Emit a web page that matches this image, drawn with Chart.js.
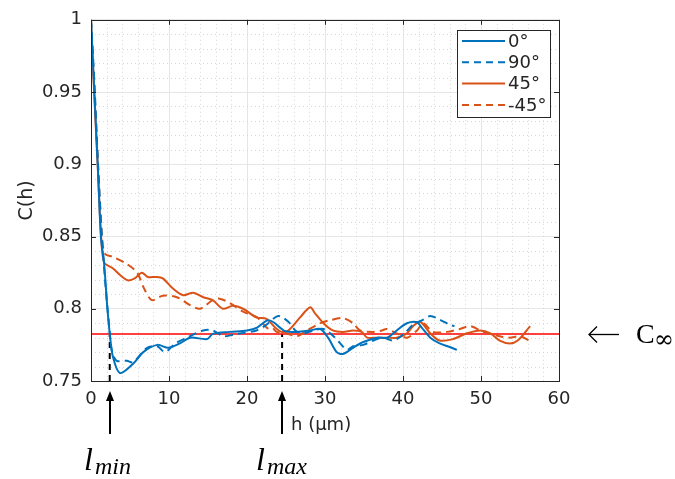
<!DOCTYPE html>
<html>
<head>
<meta charset="utf-8">
<script src="https://cdn.jsdelivr.net/npm/chart.js@4/dist/chart.umd.min.js"></script>
<style>
  html, body { margin: 0; padding: 0; background: #fff; }
  #wrap { width: 675px; height: 479px; }
</style>
</head>
<body>
<div id="wrap"><canvas id="myChart" width="675" height="479"></canvas></div>
<script>
// lag h (um) and correlation values, one pair of arrays per direction
const h0   = [0, 0.42, 0.86, 1.28, 1.67, 2.1, 2.4, 2.8, 3.7, 5.4, 6.7, 8.5, 9.9, 11.4, 12.7, 14.9, 15.6, 17.8, 20, 21.3, 22.6, 23.3, 24.9, 26.4, 28.1, 29.4, 30.4, 31.5, 32.3, 33.6, 34.9, 36.7, 38.0, 39.2, 40.5, 41.8, 42.4, 43.5, 44.7, 46, 46.9];
const c0   = [1, 0.951, 0.90, 0.849, 0.832, 0.80, 0.783, 0.767, 0.7555, 0.762, 0.770, 0.775, 0.773, 0.776, 0.780, 0.779, 0.7826, 0.784, 0.785, 0.787, 0.792, 0.791, 0.7845, 0.784, 0.785, 0.786, 0.780, 0.770, 0.7687, 0.773, 0.777, 0.780, 0.780, 0.785, 0.790, 0.7907, 0.787, 0.780, 0.776, 0.7735, 0.7715];

const h90  = [0, 0.45, 0.9, 1.4, 1.8, 2.3, 2.7, 3.3, 4.6, 5.4, 7.2, 8.5, 9.5, 10.8, 12.3, 14.4, 15.6, 17, 18.2, 19.5, 21.2, 22.5, 24, 25.3, 26.2, 27.2, 28.5, 29.8, 31.3, 32.8, 33.6, 34.9, 36.2, 37.5, 38.7, 40, 41.3, 42.6, 43.5, 44.7, 46, 46.6];
const c90  = [1, 0.955, 0.90, 0.85, 0.82, 0.79, 0.77, 0.764, 0.764, 0.763, 0.773, 0.774, 0.770, 0.776, 0.780, 0.785, 0.785, 0.781, 0.782, 0.7833, 0.785, 0.789, 0.795, 0.791, 0.785, 0.783, 0.785, 0.786, 0.780, 0.7716, 0.774, 0.775, 0.778, 0.780, 0.778, 0.782, 0.789, 0.7925, 0.795, 0.7925, 0.789, 0.788];

const h45  = [0, 0.4, 0.85, 1.3, 1.7, 2.8, 3.8, 4.7, 5.6, 6.5, 7.3, 8.4, 9.2, 10.5, 11.8, 13.1, 14.4, 15.6, 16.9, 18.2, 19.5, 21.2, 22.5, 23.6, 24.4, 25.3, 26.8, 28.1, 28.7, 29.8, 31, 32.3, 33.6, 34.7, 35.4, 36.7, 37.9, 39.2, 40.5, 41.3, 42.2, 43.5, 44.7, 46.4, 48.2, 49.9, 51.2, 52.4, 53.7, 54.7, 56.3];
const c45  = [1, 0.95, 0.90, 0.85, 0.832, 0.828, 0.823, 0.8197, 0.821, 0.825, 0.822, 0.822, 0.821, 0.814, 0.8094, 0.811, 0.808, 0.806, 0.800, 0.802, 0.800, 0.794, 0.793, 0.787, 0.784, 0.785, 0.794, 0.801, 0.797, 0.790, 0.785, 0.784, 0.785, 0.784, 0.780, 0.780, 0.780, 0.780, 0.783, 0.788, 0.791, 0.783, 0.778, 0.779, 0.783, 0.785, 0.783, 0.778, 0.776, 0.778, 0.788];

const hm45 = [0, 0.45, 0.9, 1.4, 1.8, 2.8, 4.6, 5.9, 6.9, 7.8, 9.2, 11, 12.7, 14, 15.6, 16.5, 17.8, 19.5, 21.3, 22.6, 23.2, 23.8, 25, 26.4, 27.7, 29.4, 30.6, 32.3, 33.6, 34.5, 36.2, 37.3, 37.9, 39.2, 40.5, 41.8, 42.6, 43.8, 45.6, 47.3, 48.6, 50.3, 52.4, 53.7, 55, 56.3];
const cm45 = [1, 0.95, 0.90, 0.85, 0.838, 0.836, 0.831, 0.825, 0.813, 0.806, 0.809, 0.808, 0.8025, 0.800, 0.806, 0.807, 0.804, 0.798, 0.794, 0.7866, 0.787, 0.784, 0.783, 0.781, 0.785, 0.790, 0.792, 0.7935, 0.790, 0.785, 0.784, 0.785, 0.786, 0.783, 0.780, 0.785, 0.790, 0.784, 0.784, 0.786, 0.788, 0.784, 0.781, 0.780, 0.781, 0.7776];

const labels = ['0°', '90°', '45°', '-45°'];
const cInf = 0.7825;   // red asymptote
const lMin = 2.4;      // dashed markers
const lMax = 24.5;
const xTicks = [0, 10, 20, 30, 40, 50, 60];
const yTicks = [0.75, 0.8, 0.85, 0.9, 0.95, 1];

const blue = '#0072BD';
const orange = '#D95319';
const axisCol = '#262626';
const FONT = 'DejaVu Sans';

const pts = (xs, ys) => xs.map((x, i) => ({ x: x, y: ys[i] }));

function series(label, xs, ys, color, dashed) {
    return {
        label: label,
        data: pts(xs, ys),
        borderColor: color,
        borderWidth: 2,
        borderDash: dashed ? [8, 5] : [],
        pointRadius: 0,
        tension: 0.3,
        fill: false
    };
}

// grid, box, legend and the annotations under the axis
const decor = {
    id: 'decor',
    beforeDatasetsDraw(chart) {
        const { ctx, chartArea: a, scales: { x, y } } = chart;
        ctx.save();
        ctx.strokeStyle = '#d6d6d6';
        ctx.lineWidth = 1;
        ctx.setLineDash([1, 3]);
        for (let v = 2; v < 60; v += 2) {
            if (v % 10 === 0) continue;
            const px = Math.round(x.getPixelForValue(v)) + 0.5;
            ctx.beginPath(); ctx.moveTo(px, a.top); ctx.lineTo(px, a.bottom); ctx.stroke();
        }
        for (let k = 76; k < 100; k++) {
            if (k % 5 === 0) continue;
            const py = Math.round(y.getPixelForValue(k / 100)) + 0.5;
            ctx.beginPath(); ctx.moveTo(a.left, py); ctx.lineTo(a.right, py); ctx.stroke();
        }
        ctx.restore();
    },
    afterDatasetsDraw(chart) {
        const { ctx, chartArea: a, scales: { x, y } } = chart;
        ctx.save();
        // box + inward ticks
        ctx.strokeStyle = axisCol;
        ctx.lineWidth = 1;
        ctx.setLineDash([]);
        ctx.strokeRect(Math.round(a.left) + 0.5, Math.round(a.top) + 0.5, Math.round(a.right - a.left), Math.round(a.bottom - a.top));
        xTicks.forEach(v => {
            const px = Math.round(x.getPixelForValue(v)) + 0.5;
            ctx.beginPath();
            ctx.moveTo(px, a.bottom); ctx.lineTo(px, a.bottom - 5);
            ctx.moveTo(px, a.top); ctx.lineTo(px, a.top + 5);
            ctx.stroke();
        });
        yTicks.forEach(v => {
            const py = Math.round(y.getPixelForValue(v)) + 0.5;
            ctx.beginPath();
            ctx.moveTo(a.left, py); ctx.lineTo(a.left + 5, py);
            ctx.moveTo(a.right, py); ctx.lineTo(a.right - 5, py);
            ctx.stroke();
        });

        // legend
        const lx = 457, ly = 30, lw = 93, lh = 87;
        ctx.fillStyle = '#fff';
        ctx.fillRect(lx, ly, lw, lh);
        ctx.strokeRect(lx + 0.5, ly + 0.5, lw, lh);
        ctx.font = '18px "' + FONT + '"';
        ctx.textBaseline = 'middle';
        ctx.textAlign = 'left';
        chart.data.datasets.slice(0, 4).forEach((ds, i) => {
            const ry = 41 + i * 21.3;
            ctx.strokeStyle = ds.borderColor;
            ctx.lineWidth = 2;
            ctx.setLineDash(ds.borderDash.length ? [7, 5] : []);
            ctx.beginPath(); ctx.moveTo(462, ry); ctx.lineTo(505, ry); ctx.stroke();
            ctx.fillStyle = axisCol;
            ctx.fillText(ds.label, 508, ry + 1);
        });
        ctx.setLineDash([]);

        // x axis label placed beside the l_max arrow
        ctx.fillStyle = axisCol;
        ctx.fillText('h (µm)', 291, 425);

        // arrows below the axis
        ctx.strokeStyle = '#000';
        ctx.fillStyle = '#000';
        ctx.lineWidth = 2;
        [lMin, lMax].forEach(v => {
            const px = Math.round(x.getPixelForValue(v));
            ctx.beginPath(); ctx.moveTo(px, 434); ctx.lineTo(px, 398); ctx.stroke();
            ctx.beginPath(); ctx.moveTo(px, 391); ctx.lineTo(px - 4, 401); ctx.lineTo(px + 4, 401); ctx.closePath(); ctx.fill();
        });

        // l_min / l_max
        ctx.textBaseline = 'alphabetic';
        const mathLabel = (base, sub, px) => {
            ctx.font = 'italic 32px "Liberation Serif"';
            ctx.fillText(base, px, 470);
            const w = ctx.measureText(base).width;
            ctx.font = 'italic 24px "Liberation Serif"';
            ctx.fillText(sub, px + w + 2, 474);
        };
        mathLabel('l', 'min', 84);
        mathLabel('l', 'max', 256);

        // C_inf on the right
        const ry = Math.round(y.getPixelForValue(cInf)) + 0.5;
        ctx.lineWidth = 1.3;
        ctx.beginPath(); ctx.moveTo(589, ry); ctx.lineTo(619, ry); ctx.stroke();
        ctx.beginPath();
        ctx.moveTo(597, ry - 8); ctx.lineTo(589, ry); ctx.lineTo(597, ry + 8);
        ctx.stroke();
        ctx.font = '28px "Liberation Serif"';
        ctx.fillText('C', 636, 343);
        const cw = ctx.measureText('C').width;
        ctx.font = '24px "DejaVu Serif"';
        ctx.fillText('\u221E', 636 + cw - 1, 347);
        ctx.restore();
    }
};

const ctx = document.getElementById('myChart').getContext('2d');

const myChart = new Chart(ctx, {
    type: 'line',
    data: {
        datasets: [
            series(labels[0], h0, c0, blue, false),
            series(labels[1], h90, c90, blue, true),
            series(labels[2], h45, c45, orange, false),
            series(labels[3], hm45, cm45, orange, true),
            {   // C infinity
                label: 'Cinf',
                data: [{ x: 0, y: cInf }, { x: 60, y: cInf }],
                borderColor: '#ff0000', borderWidth: 1.5, pointRadius: 0
            },
            {
                label: 'lmin',
                data: [{ x: lMin, y: 0.75 }, { x: lMin, y: cInf }],
                borderColor: '#000', borderWidth: 2, borderDash: [6, 5], pointRadius: 0
            },
            {
                label: 'lmax',
                data: [{ x: lMax, y: 0.75 }, { x: lMax, y: cInf }],
                borderColor: '#000', borderWidth: 2, borderDash: [6, 5], pointRadius: 0
            }
        ]
    },
    options: {
        responsive: false,
        animation: false,
        layout: { padding: { left: 0, right: 116, top: 19, bottom: 68 } },
        plugins: {
            legend: { display: false },
            tooltip: { enabled: false }
        },
        scales: {
            x: {
                type: 'linear',
                min: 0, max: 60,
                afterFit: s => { s.height = 30; },
                afterBuildTicks: s => { s.ticks = xTicks.map(v => ({ value: v })); },
                ticks: { font: { family: FONT, size: 18 }, color: axisCol, padding: 8, maxRotation: 0 },
                grid: { color: '#e6e6e6', drawTicks: false },
                border: { display: false }
            },
            y: {
                type: 'linear',
                min: 0.75, max: 1,
                afterFit: s => { s.width = 91; },
                afterBuildTicks: s => { s.ticks = yTicks.map(v => ({ value: v })); },
                ticks: {
                    font: { family: FONT, size: 18 }, color: axisCol, padding: 9,
                    callback: v => String(+v.toFixed(2))
                },
                grid: { color: '#e6e6e6', drawTicks: false },
                border: { display: false },
                title: {
                    display: true, text: 'C(h)', color: axisCol,
                    font: { family: FONT, size: 19 }, padding: { top: 16, bottom: 0 }
                }
            }
        }
    },
    plugins: [decor]
});
</script>
</body>
</html>
